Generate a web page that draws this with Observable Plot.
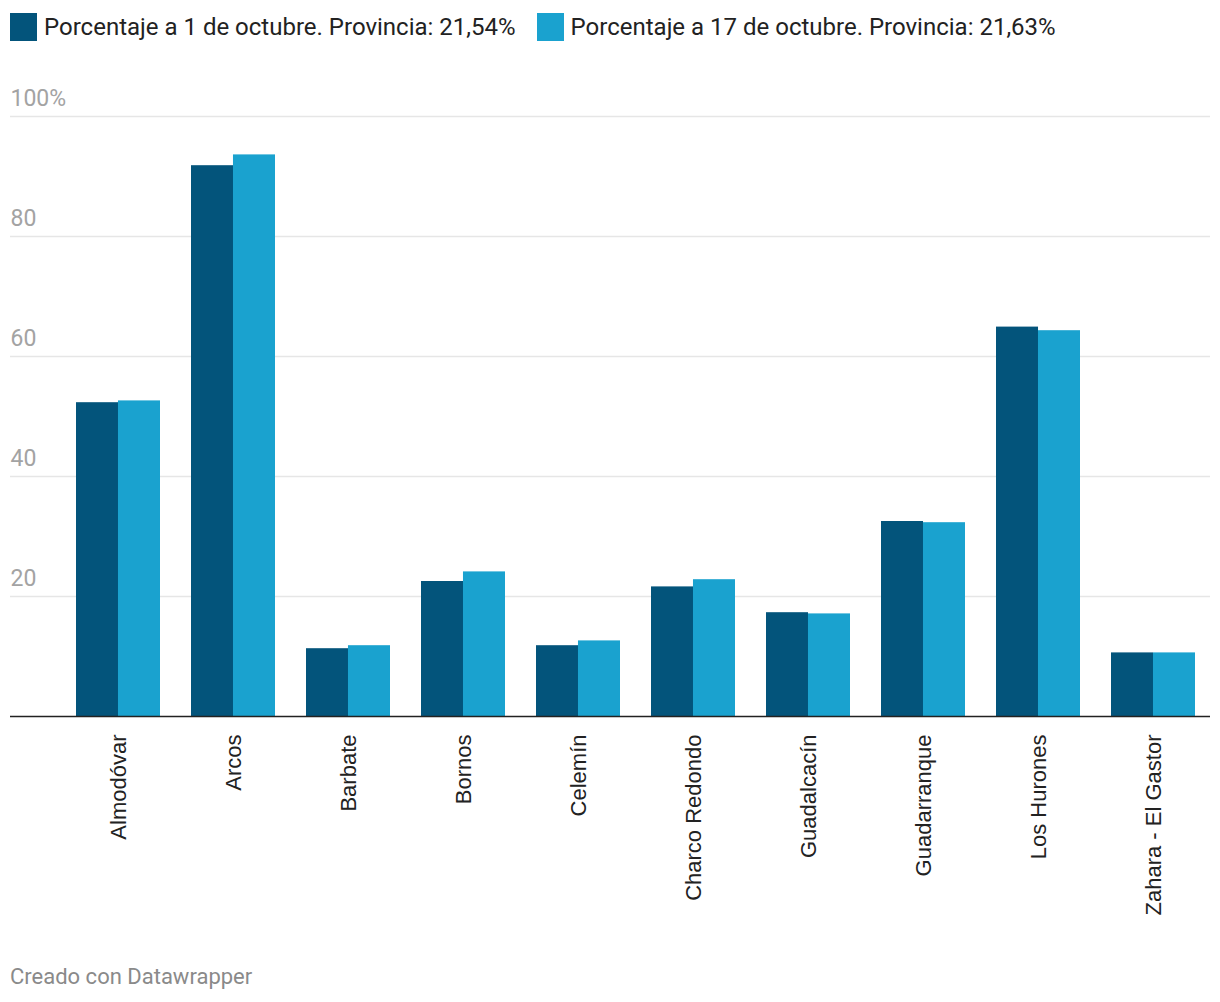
<!DOCTYPE html>
<html>
<head>
<meta charset="utf-8">
<script src="https://cdn.jsdelivr.net/npm/d3@7"></script>
<script src="https://cdn.jsdelivr.net/npm/@observablehq/plot@0.6"></script>
<style>
  body { margin: 0; background: #fff; font-family: Roboto, sans-serif; width: 1220px; height: 1002px; position: relative; overflow: hidden; }
  #legend { position: absolute; top: 13px; left: 10px; display: flex; align-items: center; font-size: 24px; color: #222; }
  .item { display: flex; align-items: center; margin-right: 21px; }
  .sw { width: 27px; height: 28px; margin-right: 7px; }
  #chart { position: absolute; top: 60px; left: 0; }
  #caption { position: absolute; top: 964px; left: 10px; font-size: 22px; color: #8a8a8a; }
</style>
</head>
<body>
<div id="legend"></div>
<div id="chart"></div>
<div id="caption">Creado con Datawrapper</div>
<script>
const names = ["Almodóvar", "Arcos", "Barbate", "Bornos", "Celemín", "Charco Redondo", "Guadalcacín", "Guadarranque", "Los Hurones", "Zahara - El Gastor"];
const oct1 = [52.3, 91.8, 11.3, 22.5, 11.8, 21.6, 17.3, 32.5, 64.9, 10.6];
const oct17 = [52.6, 93.6, 11.8, 24.1, 12.6, 22.8, 17.1, 32.3, 64.3, 10.6];
const seriesLabels = ["Porcentaje a 1 de octubre. Provincia: 21,54%", "Porcentaje a 17 de octubre. Provincia: 21,63%"];
const seriesColors = ["#03547b", "#1aa2cf"];
const yTicks = [20, 40, 60, 80, 100];

const data = names.map((name, i) => ({name, v1: oct1[i], v17: oct17[i]}));

const W = 1220, H = 880, mL = 10, mR = 10, mT = 56, mB = 224;
const xOpts = {type: "band", domain: names, paddingInner: 0.27, paddingOuter: 0.352, align: 0.815};
const bw = Plot.scale({x: {...xOpts, range: [mL, W - mR]}}).bandwidth;

const legend = document.getElementById("legend");
seriesLabels.forEach((t, i) => {
  const it = document.createElement("div");
  it.className = "item";
  it.innerHTML = `<div class="sw" style="background:${seriesColors[i]}"></div><span>${t}</span>`;
  legend.appendChild(it);
});

const chart = Plot.plot({
  width: W, height: H,
  marginLeft: mL, marginRight: mR, marginTop: mT, marginBottom: mB,
  style: {fontFamily: "Roboto, sans-serif", background: "#fff"},
  x: {...xOpts, axis: null, label: null},
  y: {domain: [0, 100], axis: null, label: null},
  marks: [
    Plot.ruleY(yTicks, {stroke: "#e6e6e6", strokeWidth: 1.5}),
    Plot.axisY(yTicks, {anchor: "left", label: null, tickSize: 0, tickPadding: 0, textAnchor: "start", dy: -18, fontSize: 23, fill: "#a3a3a3",
      tickFormat: d => d === 100 ? "100%" : String(d)}),
    Plot.barY(data, {x: "name", y: "v1", fill: seriesColors[0], insetRight: bw / 2, insetLeft: 0}),
    Plot.barY(data, {x: "name", y: "v17", fill: seriesColors[1], insetLeft: bw / 2, insetRight: 0}),
    Plot.ruleY([0], {stroke: "#222", strokeWidth: 1.6}),
    Plot.axisX({anchor: "bottom", label: null, tickRotate: -90, tickSize: 0, tickPadding: 18, fontSize: 22, fontFamily: "'Liberation Sans', Arial, sans-serif", fill: "#222"})
  ]
});
document.getElementById("chart").appendChild(chart);
</script>
</body>
</html>
